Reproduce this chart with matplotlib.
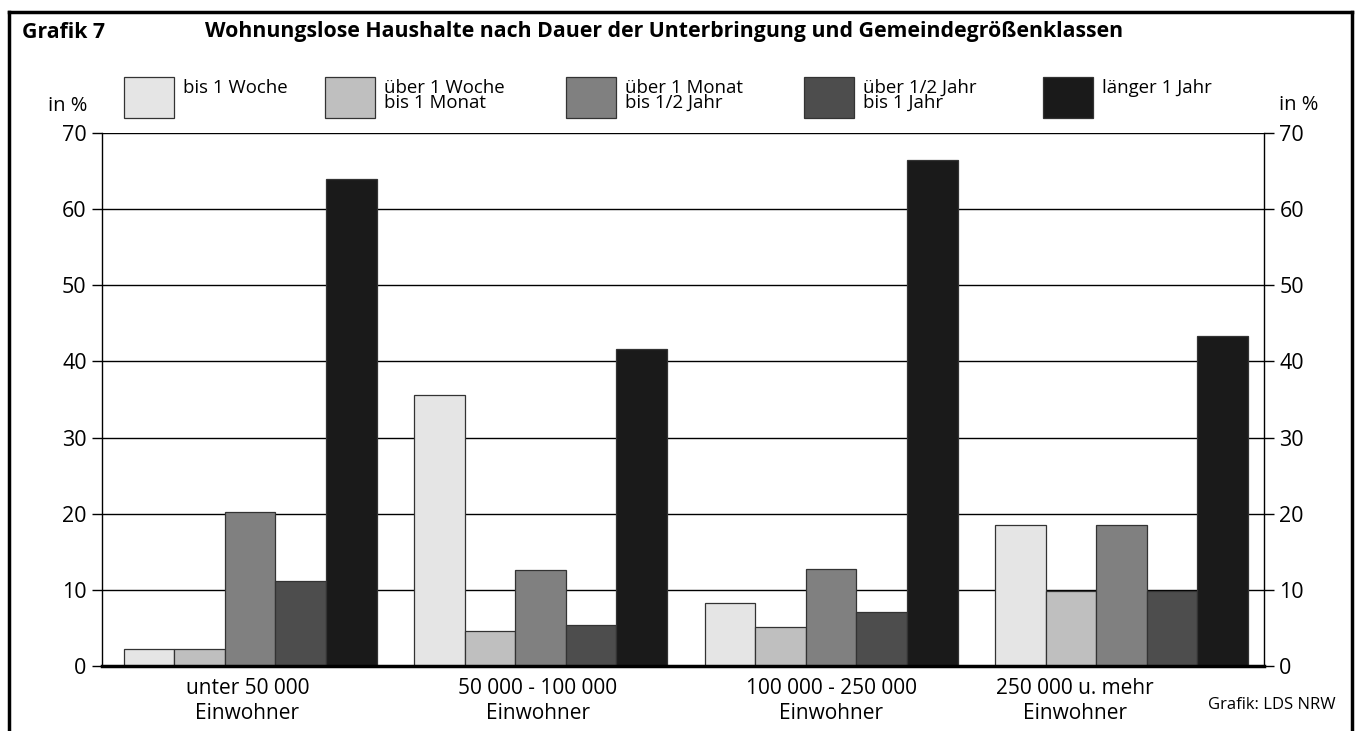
import matplotlib.pyplot as plt
import numpy as np
from matplotlib.lines import Line2D
from matplotlib.patches import Rectangle

plt.rcParams["font.family"] = ["Open Sans", "DejaVu Sans"]

categories = [
    "unter 50 000\nEinwohner",
    "50 000 - 100 000\nEinwohner",
    "100 000 - 250 000\nEinwohner",
    "250 000 u. mehr\nEinwohner",
]
series_names = [
    "bis 1 Woche",
    "über 1 Woche\nbis 1 Monat",
    "über 1 Monat\nbis 1/2 Jahr",
    "über 1/2 Jahr\nbis 1 Jahr",
    "länger 1 Jahr",
]
bis_1_woche = [2.2, 35.6, 8.3, 18.5]
woche_bis_monat = [2.2, 4.6, 5.1, 9.8]
monat_bis_halbjahr = [20.2, 12.6, 12.8, 18.5]
halbjahr_bis_jahr = [11.2, 5.4, 7.1, 9.9]
laenger_1_jahr = [63.9, 41.6, 66.5, 43.3]
yticks = [0, 10, 20, 30, 40, 50, 60, 70]

series_values = [bis_1_woche, woche_bis_monat, monat_bis_halbjahr,
                 halbjahr_bis_jahr, laenger_1_jahr]
colors = ["#e5e5e5", "#bfbfbf", "#808080", "#4d4d4d", "#1a1a1a"]
label_offsets = [0.0, 0.0, 0.01, -0.15]

W, H = 1356, 731
fig = plt.figure(figsize=(W / 100, H / 100), dpi=100)
ax = fig.add_axes([102 / W, (H - 666) / H, (1264 - 102) / W, (666 - 133) / H])

x = np.arange(len(categories))
bw = 0.174
for i, (vals, col) in enumerate(zip(series_values, colors)):
    ax.bar(x + (i - 2) * bw + 0.01, vals, width=bw, color=col,
           edgecolor="#333333", linewidth=0.9, zorder=3)

ax.set_xlim(-0.5, len(categories) - 0.5)
ax.set_ylim(0, 70)
ax.set_yticks(yticks)
for t in yticks[1:]:
    ax.axhline(t, color="black", lw=1.0, zorder=1)

ax.spines["top"].set_visible(False)
ax.spines["left"].set_linewidth(1.0)
ax.spines["right"].set_linewidth(1.0)
ax.spines["bottom"].set_linewidth(2.5)
ax.spines["bottom"].set_zorder(4)

ax.tick_params(axis="y", which="both", left=True, right=True, labelleft=True,
               labelright=True, direction="out", length=7, width=1.0,
               labelsize=15.5, pad=4)
ax.set_xticks(x + np.array(label_offsets))
ax.set_xticklabels(categories, fontsize=15, linespacing=1.2)
ax.tick_params(axis="x", length=0, pad=9)

# unit labels
fig.text(87 / W, 1 - 106 / H, "in %", ha="right", va="center", fontsize=14.5)
fig.text(1279 / W, 1 - 105 / H, "in %", ha="left", va="center", fontsize=14.5)

# title
fig.text(22 / W, 1 - 32 / H, "Grafik 7", ha="left", va="center",
         fontsize=15.3, fontweight="bold")
fig.text(205 / W, 1 - 32 / H,
         "Wohnungslose Haushalte nach Dauer der Unterbringung und Gemeindegrößenklassen",
         ha="left", va="center", fontsize=15.3, fontweight="bold")

# legend
box_x = [124, 325, 566, 804, 1043]
for bx, name, col in zip(box_x, series_names, colors):
    fig.add_artist(Rectangle((bx / W, 1 - 118 / H), 50 / W, 41 / H,
                             transform=fig.transFigure, facecolor=col,
                             edgecolor="#333333", lw=0.9))
    fig.text((bx + 59) / W, 1 - 79 / H, name, ha="left", va="top",
             fontsize=13.4, linespacing=0.75)

fig.text(1336 / W, 1 - 705 / H, "Grafik: LDS NRW", ha="right", va="center",
         fontsize=12)

# outer frame
fr = dict(color="black", lw=2.5, transform=fig.transFigure)
fig.add_artist(Line2D([9 / W, 9 / W], [0, 1 - 12 / H], **fr))
fig.add_artist(Line2D([1352 / W, 1352 / W], [0, 1 - 12 / H], **fr))
fig.add_artist(Line2D([9 / W, 1352 / W], [1 - 12 / H, 1 - 12 / H], **fr))

fig.savefig("out.png", dpi=100)
